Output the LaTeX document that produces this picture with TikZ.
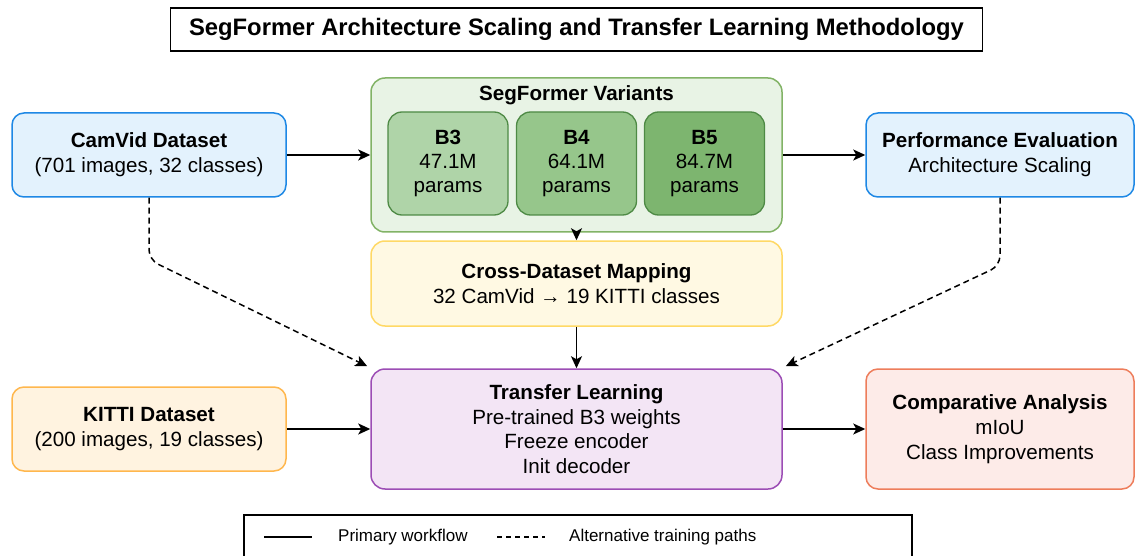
\documentclass[tikz,border=0pt]{standalone}
\usepackage{fontspec}
\setmainfont{Liberation Sans}
\usetikzlibrary{shapes, arrows, arrows.meta, calc}

\definecolor{blueFill}{HTML}{E3F2FD}
\definecolor{blueLine}{HTML}{1E88E5}
\definecolor{greenFill}{HTML}{E8F3E5}
\definecolor{greenLine}{HTML}{82B366}
\definecolor{bThreeFill}{HTML}{AFD4A8}
\definecolor{bFourFill}{HTML}{96C68B}
\definecolor{bFiveFill}{HTML}{7DB56F}
\definecolor{bLine}{HTML}{4E8A45}
\definecolor{yellowFill}{HTML}{FFF9E3}
\definecolor{yellowLine}{HTML}{FFD966}
\definecolor{orangeFill}{HTML}{FFF3E0}
\definecolor{orangeLine}{HTML}{FFB74D}
\definecolor{purpleFill}{HTML}{F3E5F5}
\definecolor{purpleLine}{HTML}{9C4DB5}
\definecolor{redFill}{HTML}{FDEBE8}
\definecolor{redLine}{HTML}{EE7D5B}

\tikzstyle{titleBox}     = [rectangle,
                            minimum width=812pt,
                            minimum height=43pt,
                            text centered,
                            line width=1.3pt,
                            draw=black,
                            fill=white,
                            font=\fontsize{23.8}{27}\selectfont\bfseries]
\tikzstyle{dataset}      = [rectangle,
                            rounded corners=12pt,
                            minimum width=274pt,
                            minimum height=84pt,
                            align=center,
                            line width=1.5pt,
                            font=\fontsize{20.6}{25}\selectfont]
\tikzstyle{stage}        = [rectangle,
                            rounded corners=14pt,
                            minimum width=411pt,
                            align=center,
                            line width=1.5pt,
                            font=\fontsize{20.6}{24.5}\selectfont]
\tikzstyle{variant}      = [rectangle,
                            rounded corners=14pt,
                            minimum width=120pt,
                            minimum height=103pt,
                            align=center,
                            line width=1.3pt,
                            draw=bLine,
                            font=\fontsize{20.6}{24}\selectfont]
\tikzstyle{legendText}   = [anchor=west,
                            inner sep=0pt,
                            font=\fontsize{17}{20}\selectfont]
\tikzstyle{arrow}        = [line width=1.5pt, ->, >={Stealth[length=12pt, width=11pt, inset=3pt]}]
\tikzstyle{dashedArrow}  = [line width=1.5pt, dash pattern=on 6pt off 4pt, ->, >={Stealth[length=12pt, width=11pt, inset=3pt]}]

\begin{document}
\begin{tikzpicture}[x=1pt, y=1pt]
        \useasboundingbox [fill=white] (0,0) rectangle (1135,-556);

        \node [titleBox] (title) at (576.5,-29.5) {SegFormer Architecture Scaling and Transfer Learning Methodology};

        % variants container
        \node [stage, minimum height=154pt, draw=greenLine, fill=greenFill] (variants) at ([shift={(0,-125.5)}] title) {};
        \node [font=\fontsize{20.6}{24}\selectfont\bfseries] (variantsLabel) at ([shift={(0,60)}] variants) {SegFormer Variants};
        \node [variant, fill=bThreeFill] (B3) at ([shift={(-128.5,-8.5)}] variants) {\textbf{B3}\\47.1M\\params};
        \node [variant, fill=bFourFill]  (B4) at ([shift={(0,-8.5)}] variants) {\textbf{B4}\\64.1M\\params};
        \node [variant, fill=bFiveFill]  (B5) at ([shift={(128,-8.5)}] variants) {\textbf{B5}\\84.7M\\params};

        \node [dataset, draw=blueLine, fill=blueFill] (CamVid) at ([shift={(-427.5,0)}] variants) {
            \textbf{CamVid Dataset}\\(701 images, 32 classes)
            };
        \node [dataset, minimum width=268pt, draw=blueLine, fill=blueFill] (Evaluation) at ([shift={(423.5,0)}] variants) {
            \textbf{Performance Evaluation}\\Architecture Scaling
            };

        \node [stage, minimum height=85pt, draw=yellowLine, fill=yellowFill] (Mapping) at ([shift={(0,-128.5)}] variants) {
            \textbf{Cross-Dataset Mapping}\\32 CamVid → 19 KITTI classes
            };
        \node [stage, minimum height=120pt, draw=purpleLine, fill=purpleFill] (Transfer) at ([shift={(0,-274)}] variants) {
            \textbf{Transfer Learning}\\Pre-trained B3 weights\\Freeze encoder\\Init decoder
            };
        \node [dataset, draw=orangeLine, fill=orangeFill] (KITTI) at ([shift={(-427.5,-274)}] variants) {
            \textbf{KITTI Dataset}\\(200 images, 19 classes)
            };
        \node [dataset, minimum width=268pt, minimum height=120pt, draw=redLine, fill=redFill] (Analysis) at ([shift={(423.5,-274)}] variants) {
            \textbf{Comparative Analysis}\\mIoU\\Class Improvements
            };

        \draw [arrow] (CamVid) -- (variants);
        \draw [arrow] (variants) -- (Evaluation);
        \draw [arrow] (variants) -- (Mapping);
        \draw [arrow] (Mapping) -- (Transfer);
        \draw [arrow] (KITTI) -- (Transfer);
        \draw [arrow] (Transfer) -- (Analysis);

        \draw [dashedArrow, rounded corners=10pt] (CamVid.south) -- ++(0,-62) -- ([shift={(-3,2)}] Transfer.north west);
        \draw [dashedArrow, rounded corners=10pt] (Evaluation.south) -- ++(0,-68) -- ([shift={(3,2)}] Transfer.north east);

        % legend
        \node [rectangle, minimum width=668pt, minimum height=50pt, line width=1.3pt, draw=black, fill=white] (legend) at ([shift={(1.5,-111)}] Transfer) {};
        \coordinate (solidA) at ([shift={(-314,3)}] legend.center);
        \coordinate (solidB) at ([shift={(-266,3)}] legend.center);
        \coordinate (dashA)  at ([shift={(-81,3)}] legend.center);
        \coordinate (dashB)  at ([shift={(-33,3)}] legend.center);
        \draw [line width=1.3pt] (solidA) -- (solidB);
        \draw [line width=1.3pt, dash pattern=on 5pt off 4pt] (dashA) -- (dashB);
        \node [legendText] (primaryText) at ([shift={(-240,3)}] legend.center) {Primary workflow};
        \node [legendText] (altText)     at ([shift={(-9,3)}] legend.center) {Alternative training paths};

    \end{tikzpicture}
\end{document}
